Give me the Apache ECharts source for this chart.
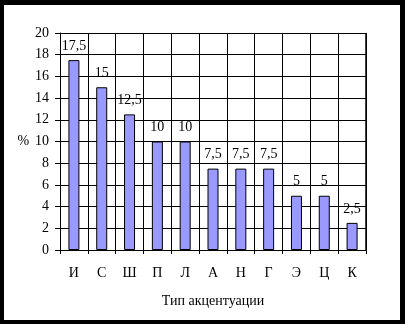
<!DOCTYPE html>
<html><head><meta charset="utf-8">
<script src="https://cdn.jsdelivr.net/npm/echarts@6/dist/echarts.min.js"></script>
<style>html,body{margin:0;padding:0;background:#000;}#c{position:absolute;left:4px;top:5px;width:396px;height:315px;background:#fff;}</style>
</head><body><div id="c"></div>
<script>
var categories = ['И','С','Ш','П','Л','А','Н','Г','Э','Ц','К'];
var values = [17.5, 15, 12.5, 10, 10, 7.5, 7.5, 7.5, 5, 5, 2.5];
var yTicks = [0,2,4,6,8,10,12,14,16,18,20];
var font = '"Liberation Serif", "DejaVu Serif", serif';
var chart = echarts.init(document.getElementById('c'));
chart.setOption({
  animation: false,
  grid: {left: 56, top: 28, right: 34, bottom: 70, containLabel: false},
  xAxis: {
    type: 'category', data: categories,
    name: 'Тип акцентуации', nameLocation: 'middle', nameGap: 44,
    nameTextStyle: {fontFamily: font, fontSize: 14, color: '#000'},
    axisLine: {lineStyle: {color: '#000', width: 1}},
    axisTick: {show: true, length: 4, lineStyle: {color: '#000'}},
    axisLabel: {fontFamily: font, fontSize: 14, color: '#000', margin: 16},
    splitLine: {show: true, lineStyle: {color: '#000', width: 1}}
  },
  yAxis: {
    type: 'value', min: yTicks[0], max: yTicks[yTicks.length-1], interval: 2,
    name: '%', nameLocation: 'middle', nameGap: 28, nameRotate: 0,
    nameTextStyle: {fontFamily: font, fontSize: 14, color: '#000'},
    axisLine: {show: true, lineStyle: {color: '#000'}},
    axisTick: {show: true, length: 5, lineStyle: {color: '#000'}},
    axisLabel: {fontFamily: font, fontSize: 14, color: '#000', margin: 11},
    splitLine: {show: true, lineStyle: {color: '#000', width: 1}}
  },
  series: [{
    type: 'bar', data: values, barWidth: 11,
    itemStyle: {color: '#9999FF', borderColor: '#000', borderWidth: 1},
    label: {show: true, position: 'top', distance: 7, fontFamily: font, fontSize: 14, color: '#000',
      formatter: function(p){ return String(p.value).replace('.', ','); }}
  }],
  graphic: [{type: 'rect', shape: {x: 362, y: 28, width: 0, height: 217}, style: {stroke: '#000', fill: null}}]
});
</script></body></html>
